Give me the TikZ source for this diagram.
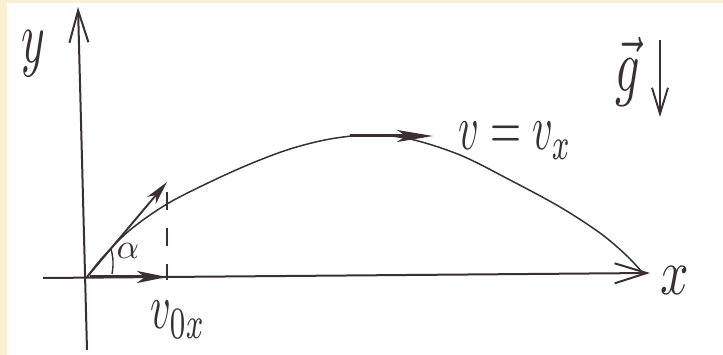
\documentclass[tikz,border=0pt]{standalone}
\usepackage{graphicx}
\usetikzlibrary{arrows.meta}
\definecolor{ink}{RGB}{58,48,52}
\definecolor{paper}{RGB}{250,240,212}
\tikzset{
  axis/.style={draw=ink, line width=2pt},
  traj/.style={draw=ink, line width=1.5pt},
  vecthick/.style={draw=ink, line width=3pt},
  vecthin/.style={draw=ink, line width=1.9pt},
  lbl/.style={text=ink, inner sep=0pt},
}
\begin{document}
\begin{tikzpicture}[x=1pt,y=-1pt]
\useasboundingbox (0,0) rectangle (723,355);
\fill[paper] (0,0) rectangle (723,355);
\fill[white] (7,3) rectangle (723,355);

% named points
\coordinate (O) at (87,277);
\coordinate (ybot) at (87,350);
\coordinate (ytop) at (78,7);
\coordinate (xleft) at (43,278);
\coordinate (xright) at (650,273);
\coordinate (v0tip) at (167,182);
\coordinate (v0xs) at (90,277);
\coordinate (v0xtip) at (167,277);
\coordinate (dtop) at (167,192);
\coordinate (dbot) at (167,280);
\coordinate (a1) at (112,274);
\coordinate (a2) at (111,249);
\coordinate (vs) at (350,136);
\coordinate (vtip) at (433,136);
\coordinate (gs) at (660,40);
\coordinate (ge) at (660,117);

% axes
\draw[axis, -{Straight Barb[length=32pt,width=19pt]}] (ybot) -- (ytop);
\draw[axis, -{Straight Barb[length=32pt,width=20pt]}] (xleft) -- (xright);

% trajectory
\draw[traj] plot[smooth, tension=0.55] coordinates {
  (87,277) (103,257) (130,230) (167,204) (210,182) (250,164) (290,149)
  (330,139) (370,135) (410,139) (460,155) (510,180) (560,207) (600,233) (626,255) (643,273)};

% initial velocity
\draw[vecthin, -{Stealth[length=24pt,width=11pt,inset=7pt]}] (O) -- (v0tip);
% horizontal component
\draw[vecthick, -{Stealth[length=30pt,width=12pt,inset=8pt]}] (v0xs) -- (v0xtip);
% dashed projection
\draw[draw=ink, line width=1.4pt, dash pattern=on 18pt off 18pt] (dtop) -- (dbot);
% angle
\draw[draw=ink, line width=1.4pt] (a1) to[bend right=12] (a2);
% velocity at apex
\draw[vecthick, -{Stealth[length=36pt,width=12pt,inset=9pt]}] (vs) -- (vtip);
% gravity
\draw[vecthin, -{Straight Barb[length=26pt,width=16pt]}] (gs) -- (ge);

% labels
\node[lbl] (ly) at (33,54) {\scalebox{4.5}[7.4]{$y$}};
\node[lbl] (lx) at (675,281) {\scalebox{5}[6.5]{$x$}};
\node[lbl] (lg) at (628,72) {\scalebox{4.8}[7.6]{$\vec{g}$}};
\node[lbl] (la) at (128,251) {\scalebox{3.5}{$\alpha$}};
\node[lbl] (lv0x) at (178,320) {\scalebox{4}[6.4]{$v_{0x}$}};
\node[lbl] (lv) at (515,141) {\scalebox{4}[6.4]{$v = v_x$}};
\end{tikzpicture}
\end{document}
